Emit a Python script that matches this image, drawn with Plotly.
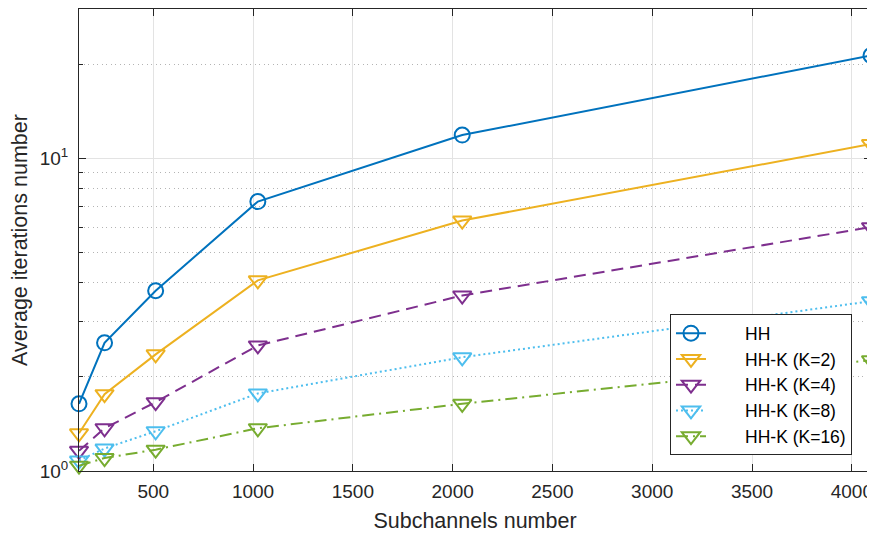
import plotly.graph_objects as go

subchannels = [128, 256, 512, 1024, 2048, 4096]
hh = [1.64, 2.57, 3.77, 7.27, 11.86, 21.3]
hhk2 = [1.32, 1.76, 2.36, 4.07, 6.32, 11.1]
hhk4 = [1.16, 1.37, 1.66, 2.52, 3.64, 6.02]
hhk8 = [1.08, 1.18, 1.34, 1.77, 2.31, 3.49]
hhk16 = [1.04, 1.10, 1.17, 1.37, 1.64, 2.26]
x_ticks = [500, 1000, 1500, 2000, 2500, 3000, 3500, 4000]
y_ticks = [1, 10]
y_tick_text = ["10<sup>0</sup>", "10<sup>1</sup>"]
y_minor = [2, 3, 4, 5, 6, 7, 8, 9, 20, 30]

series = [
    ("HH", hh, "#0072BD", "solid", "circle-open", 15),
    ("HH-K (K=2)", hhk2, "#EDB120", "solid", "triangle-down-open", 16),
    ("HH-K (K=4)", hhk4, "#7E2F8E", "12px,7px", "triangle-down-open", 16),
    ("HH-K (K=8)", hhk8, "#4DBEEE", "2px,3px", "triangle-down-open", 16),
    ("HH-K (K=16)", hhk16, "#77AC30", "12px,5px,2px,5px", "triangle-down-open", 16),
]

pad = "\u00a0" * 7
fig = go.Figure()
for name, vals, color, dash, sym, msize in series:
    fig.add_trace(go.Scatter(
        x=subchannels, y=vals, name=pad + name, mode="lines+markers",
        line=dict(color=color, width=2, dash=dash),
        marker=dict(symbol=sym, size=msize, color=color, line=dict(width=2, color=color)),
        cliponaxis=False,
    ))

font_family = "Liberation Sans, Arial, sans-serif"
# page body has an 8px margin, so the figure is sized/offset to compensate
fig.update_layout(
    width=867, height=525,
    margin=dict(l=71, r=4, t=1, b=62),
    paper_bgcolor="white", plot_bgcolor="white",
    font=dict(family=font_family, size=19, color="#262626"),
    showlegend=True,
    legend=dict(
        x=0.976, y=0.034, xanchor="right", yanchor="bottom",
        bgcolor="white", bordercolor="#262626", borderwidth=1,
        font=dict(size=17.5, color="#000000"),
        tracegroupgap=0,
    ),
)
fig.update_xaxes(
    range=[128, 4096], automargin=False,
    tickvals=x_ticks,
    ticks="inside", ticklen=7, tickcolor="#262626",
    ticklabelstandoff=3,
    showline=True, linecolor="#262626", linewidth=1, mirror="allticks",
    showgrid=True, gridcolor="#e3e3e3", gridwidth=1,
    zeroline=False,
    title=dict(text="Subchannels number", font=dict(size=21.5), standoff=12),
    tickfont=dict(size=19),
)
fig.update_yaxes(
    type="log", range=[0, 1.4771], automargin=False,
    tickvals=y_ticks, ticktext=y_tick_text,
    ticks="inside", ticklen=7, tickcolor="#262626",
    ticklabelstandoff=6,
    showline=True, linecolor="#262626", linewidth=1, mirror="allticks",
    showgrid=True, gridcolor="#e3e3e3", gridwidth=1,
    zeroline=False,
    minor=dict(
        tickmode="array", tickvals=y_minor,
        ticks="inside", ticklen=4, tickcolor="#262626",
        showgrid=True, gridcolor="#b4b4b4", griddash="1px,3.5px", gridwidth=1,
    ),
    title=dict(text="Average iterations number", font=dict(size=21.5), standoff=10),
    tickfont=dict(size=19),
)
fig.write_html("out.html")
